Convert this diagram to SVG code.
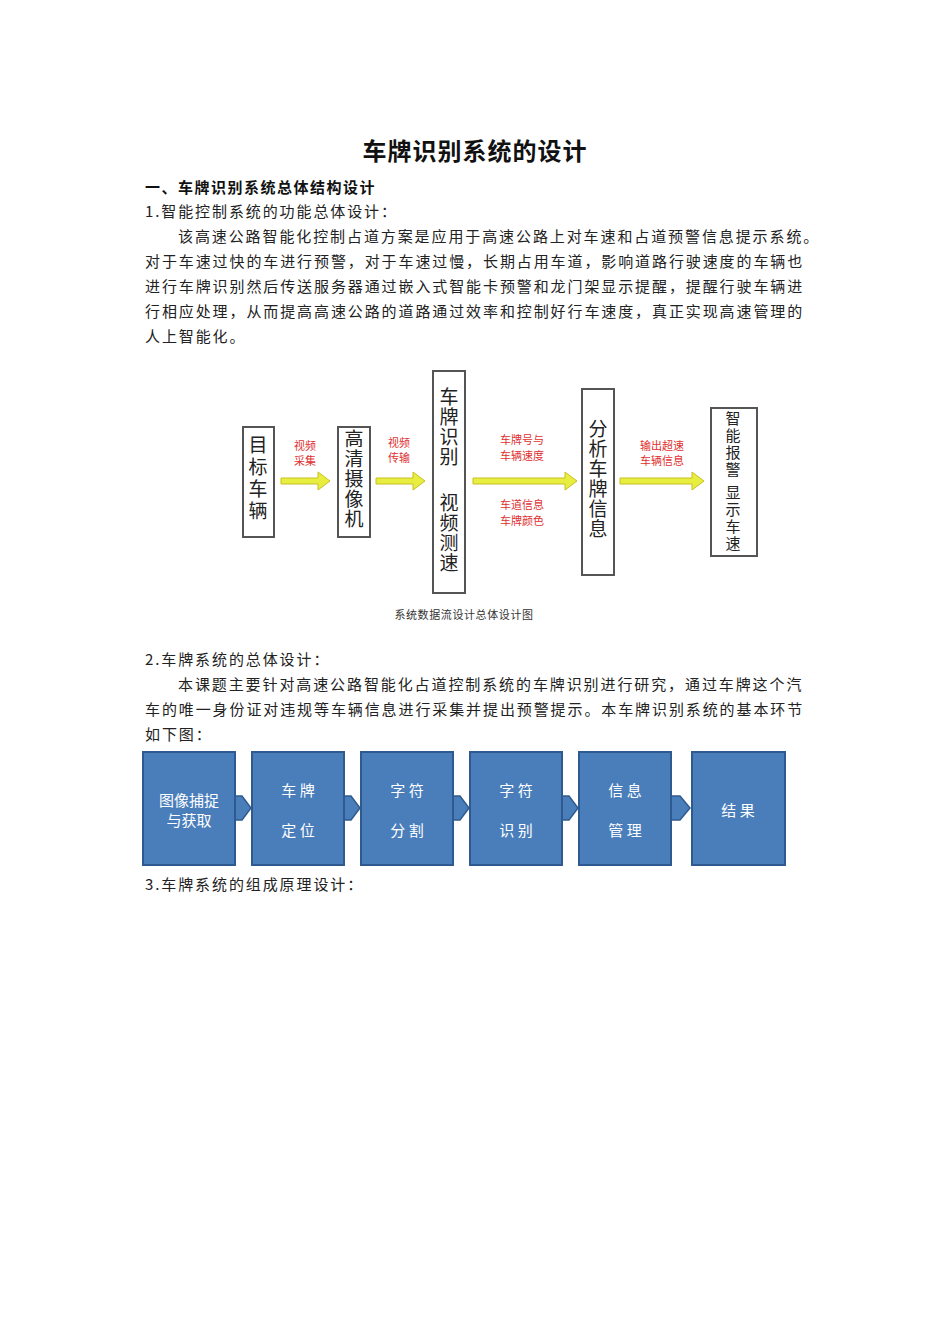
<svg xmlns="http://www.w3.org/2000/svg" width="950" height="1344" viewBox="0 0 950 1344">
<style>
.t{font-family:"Noto Sans CJK SC","Liberation Serif",serif;font-size:15px;fill:#222;letter-spacing:1.9px}
.h{font-family:"Noto Sans CJK SC",sans-serif;font-weight:bold;fill:#111}
.bx{fill:#fff;stroke:#555;stroke-width:2}
.v{font-family:"Noto Sans CJK SC",sans-serif;font-size:19px;fill:#222;text-anchor:middle}
.vs{font-family:"Noto Sans CJK SC",sans-serif;font-size:15px;fill:#222;text-anchor:middle}
.r{font-family:"Noto Sans CJK SC",sans-serif;font-size:11px;fill:#e03030;text-anchor:middle}
.bb{fill:#4a7ebb;stroke:#2f5a8f;stroke-width:2}
.w{font-family:"Noto Sans CJK SC",sans-serif;font-size:15px;fill:#fff;text-anchor:middle}
.ar{fill:#e8ee40;stroke:#c8c020;stroke-width:1}
.ch{fill:#4a7ebb;stroke:#2f5a8f;stroke-width:1.5}
</style>
<rect width="950" height="1344" fill="#fff"/>
<text class="h" x="475" y="160" font-size="24" text-anchor="middle" letter-spacing="1">车牌识别系统的设计</text>
<text class="h" x="145" y="193" font-size="15" letter-spacing="1.5">一、车牌识别系统总体结构设计</text>
<text class="t" x="145" y="217">1.智能控制系统的功能总体设计：</text>
<text class="t" x="178" y="242">该高速公路智能化控制占道方案是应用于高速公路上对车速和占道预警信息提示系统。</text>
<text class="t" x="145" y="267">对于车速过快的车进行预警，对于车速过慢，长期占用车道，影响道路行驶速度的车辆也</text>
<text class="t" x="145" y="292">进行车牌识别然后传送服务器通过嵌入式智能卡预警和龙门架显示提醒，提醒行驶车辆进</text>
<text class="t" x="145" y="317">行相应处理，从而提高高速公路的道路通过效率和控制好行车速度，真正实现高速管理的</text>
<text class="t" x="145" y="342">人上智能化。</text>
<g id="connectors-top">
<path class="ar" d="M281 478 H318 V472 L330 481 L318 490 V484 H281 Z"/>
<path class="ar" d="M376 478 H413 V472 L425 481 L413 490 V484 H376 Z"/>
<path class="ar" d="M473 478 H565 V472 L577 481 L565 490 V484 H473 Z"/>
<path class="ar" d="M620 478 H692 V472 L704 481 L692 490 V484 H620 Z"/>
</g>
<g id="n-target"><rect class="bx" x="243" y="427" width="31" height="110"/><text class="v" x="258" y="452">目</text><text class="v" x="258" y="474">标</text><text class="v" x="258" y="496">车</text><text class="v" x="258" y="518">辆</text></g>
<g id="n-camera"><rect class="bx" x="338" y="427" width="32" height="110"/><text class="v" x="354" y="446">高</text><text class="v" x="354" y="466">清</text><text class="v" x="354" y="486">摄</text><text class="v" x="354" y="506">像</text><text class="v" x="354" y="526">机</text></g>
<g id="n-recog"><rect class="bx" x="433" y="371" width="32" height="222"/><text class="v" x="449" y="404">车</text><text class="v" x="449" y="424">牌</text><text class="v" x="449" y="444">识</text><text class="v" x="449" y="464">别</text><text class="v" x="449" y="510">视</text><text class="v" x="449" y="530">频</text><text class="v" x="449" y="550">测</text><text class="v" x="449" y="570">速</text></g>
<g id="n-analysis"><rect class="bx" x="582" y="389" width="32" height="186"/><text class="v" x="598" y="436">分</text><text class="v" x="598" y="456">析</text><text class="v" x="598" y="476">车</text><text class="v" x="598" y="496">牌</text><text class="v" x="598" y="516">信</text><text class="v" x="598" y="536">息</text></g>
<g id="n-alarm"><rect class="bx" x="711" y="408" width="46" height="148"/><text class="vs" x="733" y="424">智</text><text class="vs" x="733" y="441">能</text><text class="vs" x="733" y="458">报</text><text class="vs" x="733" y="475">警</text><text class="vs" x="733" y="498">显</text><text class="vs" x="733" y="515">示</text><text class="vs" x="733" y="532">车</text><text class="vs" x="733" y="549">速</text></g>
<text class="r" x="305" y="450">视频</text><text class="r" x="305" y="465">采集</text>
<text class="r" x="399" y="447">视频</text><text class="r" x="399" y="462">传输</text>
<text class="r" x="522" y="444">车牌号与</text><text class="r" x="522" y="460">车辆速度</text>
<text class="r" x="522" y="509">车道信息</text><text class="r" x="522" y="525">车牌颜色</text>
<text class="r" x="662" y="450">输出超速</text><text class="r" x="662" y="465">车辆信息</text>
<text x="464" y="619" font-family="Noto Sans CJK SC,serif" font-size="11" fill="#333" text-anchor="middle" letter-spacing="0.6">系统数据流设计总体设计图</text>
<text class="t" x="145" y="665">2.车牌系统的总体设计：</text>
<text class="t" x="178" y="690">本课题主要针对高速公路智能化占道控制系统的车牌识别进行研究，通过车牌这个汽</text>
<text class="t" x="145" y="715">车的唯一身份证对违规等车辆信息进行采集并提出预警提示。本车牌识别系统的基本环节</text>
<text class="t" x="145" y="740">如下图：</text>
<g id="connectors-bottom">
<path class="ch" d="M234 796 L242 796 L251 808 L242 820 L234 820 Z"/>
<path class="ch" d="M343 796 L351 796 L360 808 L351 820 L343 820 Z"/>
<path class="ch" d="M452 796 L460 796 L469 808 L460 820 L452 820 Z"/>
<path class="ch" d="M561 796 L569 796 L578 808 L569 820 L561 820 Z"/>
<path class="ch" d="M670 796 L680 796 L690 808 L680 820 L670 820 Z"/>
</g>
<g id="b1"><rect class="bb" x="143" y="752" width="92" height="113"/><text class="w" x="189" y="806">图像捕捉</text><text class="w" x="189" y="826">与获取</text></g>
<g id="b2"><rect class="bb" x="252" y="752" width="92" height="113"/><text class="w" x="298" y="796">车 牌</text><text class="w" x="298" y="836">定 位</text></g>
<g id="b3"><rect class="bb" x="361" y="752" width="92" height="113"/><text class="w" x="407" y="796">字 符</text><text class="w" x="407" y="836">分 割</text></g>
<g id="b4"><rect class="bb" x="470" y="752" width="92" height="113"/><text class="w" x="516" y="796">字 符</text><text class="w" x="516" y="836">识 别</text></g>
<g id="b5"><rect class="bb" x="579" y="752" width="92" height="113"/><text class="w" x="625" y="796">信 息</text><text class="w" x="625" y="836">管 理</text></g>
<g id="b6"><rect class="bb" x="692" y="752" width="93" height="113"/><text class="w" x="738" y="816">结 果</text></g>
<text class="t" x="145" y="890">3.车牌系统的组成原理设计：</text>
</svg>
